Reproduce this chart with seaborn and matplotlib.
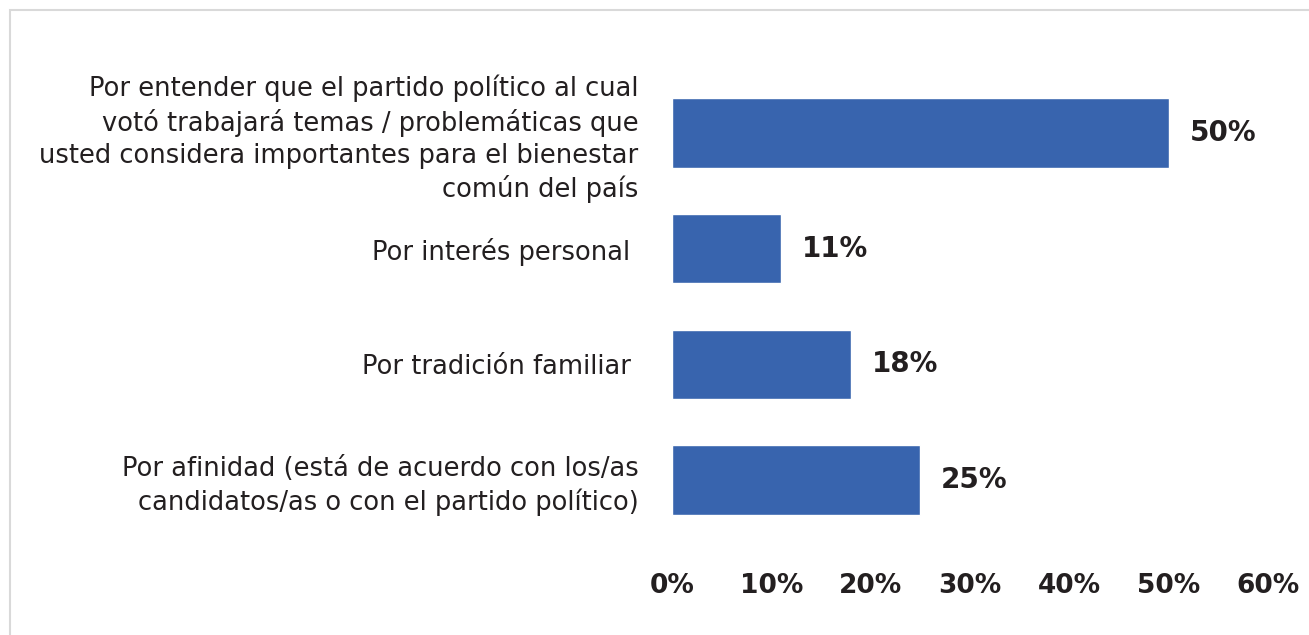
import seaborn as sns
import pandas as pd
import matplotlib.pyplot as plt
from matplotlib.patches import Rectangle

categories = [
    "Por entender que el partido político al cual\nvotó trabajará temas / problemáticas que\nusted considera importantes para el bienestar\ncomún del país",
    "Por interés personal ",
    "Por tradición familiar ",
    "Por afinidad (está de acuerdo con los/as\ncandidatos/as o con el partido político)",
]
values = [50, 11, 18, 25]
ticks = [0, 10, 20, 30, 40, 50, 60]
tick_labels = ["0%", "10%", "20%", "30%", "40%", "50%", "60%"]

bar_color = "#3864AE"

sns.set_style("white")
plt.rcParams['font.family'] = ['DejaVu Sans']

df = pd.DataFrame({"motivo": categories, "pct": values})

fig = plt.figure(figsize=(13.09, 6.35), dpi=100)
ax = fig.add_axes([0.5134, 0.153, 0.4553, 0.729])

sns.barplot(data=df, x="pct", y="motivo", orient="h", color=bar_color,
            width=0.6, saturation=1, ax=ax)

ax.set_xlim(0, 60)
ax.set_ylim(3.5, -0.5)
ax.set_xticks(ticks)
ax.set_xticklabels(tick_labels, fontsize=19, fontweight="bold", color="#231f20")
ax.tick_params(axis="x", length=0, pad=25)
ax.tick_params(axis="y", length=0, pad=24, labelsize=18.5, labelcolor="#231f20")
for lbl in ax.get_yticklabels():
    lbl.set_linespacing(1.3)
ax.set_xlabel("")
ax.set_ylabel("")
sns.despine(ax=ax, left=True, bottom=True)

for container in ax.containers:
    ax.bar_label(container, labels=[f"{v}%" for v in values], padding=15,
                 fontsize=20, fontweight="bold", color="#231f20")

# light frame around the chart
fig.patches.append(Rectangle((10 / 1309, -0.1), 1.2, 1 - 10 / 635 + 0.1,
                             transform=fig.transFigure, fill=False,
                             edgecolor="#d9d9d9", linewidth=1.5))

fig.savefig("out.png", dpi=100)
